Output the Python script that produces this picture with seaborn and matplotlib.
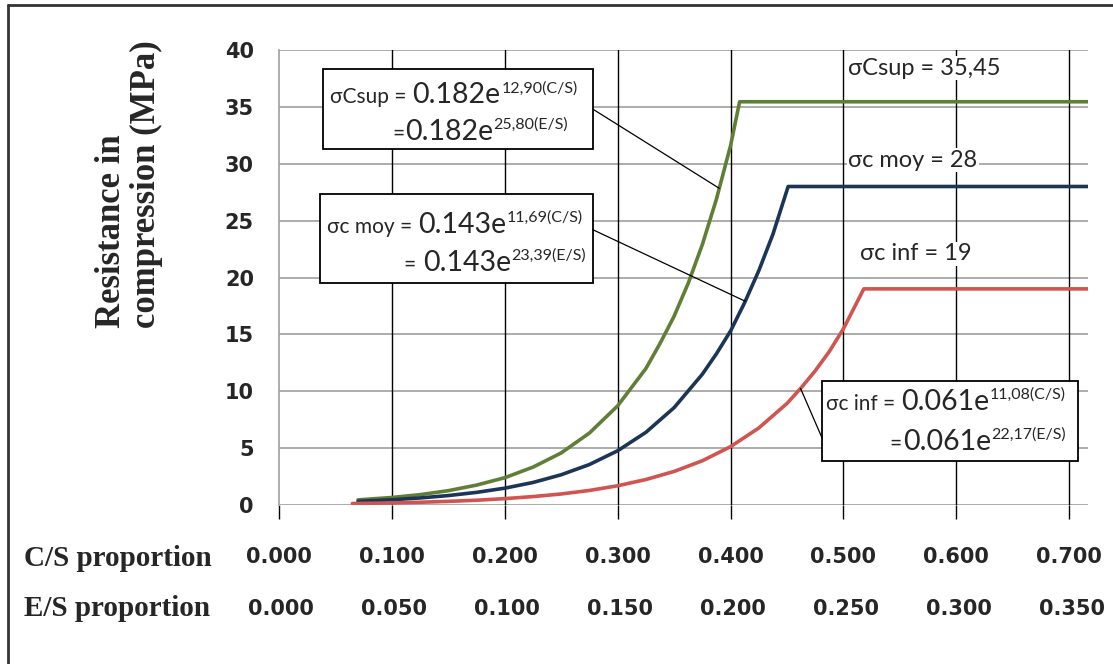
import numpy as np
import pandas as pd
import matplotlib
matplotlib.use("Agg")
import matplotlib.pyplot as plt
from matplotlib.patches import Rectangle
from matplotlib.lines import Line2D
import seaborn as sns


# ==========================================================
# Data (C/S proportion vs resistance, MPa)
# ==========================================================

cs_sup = [0.07, 0.10, 0.125, 0.15, 0.175, 0.20, 0.225, 0.25, 0.275, 0.30,
          0.325, 0.3375, 0.35, 0.3625, 0.375, 0.3875, 0.40, 0.408, 0.72]
rc_sup = [0.45, 0.66, 0.91, 1.26, 1.75, 2.40, 3.33, 4.58, 6.33, 8.72,
          12.0, 14.2, 16.6, 19.5, 22.9, 26.9, 31.6, 35.45, 35.45]

cs_moy = [0.07, 0.10, 0.125, 0.15, 0.175, 0.20, 0.225, 0.25, 0.275, 0.30,
          0.325, 0.35, 0.375, 0.3875, 0.40, 0.4125, 0.425, 0.4375, 0.451, 0.72]
rc_moy = [0.32, 0.46, 0.62, 0.83, 1.11, 1.48, 1.98, 2.66, 3.56, 4.77,
          6.39, 8.56, 11.5, 13.3, 15.3, 17.8, 20.6, 23.8, 28.0, 28.0]

cs_inf = [0.065, 0.10, 0.125, 0.15, 0.175, 0.20, 0.225, 0.25, 0.275, 0.30,
          0.325, 0.35, 0.375, 0.40, 0.425, 0.45, 0.4625, 0.475, 0.4875,
          0.50, 0.518, 0.72]
rc_inf = [0.13, 0.18, 0.24, 0.32, 0.42, 0.56, 0.74, 0.97, 1.28, 1.69,
          2.24, 2.95, 3.89, 5.13, 6.77, 8.93, 10.3, 11.8, 13.5,
          15.5, 19.0, 19.0]

series_names = ["sup", "moy", "inf"]
series_colors = {"sup": "#5F7F36", "moy": "#1C3557", "inf": "#D0544F"}

cs_ticks = ["0.000", "0.100", "0.200", "0.300", "0.400", "0.500", "0.600", "0.700"]
es_ticks = ["0.000", "0.050", "0.100", "0.150", "0.200", "0.250", "0.300", "0.350"]
y_ticks = [0, 5, 10, 15, 20, 25, 30, 35, 40]

plateau_labels = {"sup": "σCsup = 35,45", "moy": "σc moy = 28", "inf": "σc inf = 19"}

# equation pieces: (prefix, main, exponent) for each line of each box
eq_parts = {
    "sup": [("σCsup = ", "0.182e", "12,90(C/S)"), ("=", "0.182e", "25,80(E/S)")],
    "moy": [("σc moy = ", "0.143e", "11,69(C/S)"), ("= ", "0.143e", "23,39(E/S)")],
    "inf": [("σc inf = ", "0.061e", "11,08(C/S)"), ("=", "0.061e", "22,17(E/S)")],
}


# ==========================================================
# Long table for seaborn
# ==========================================================

df = pd.concat([
    pd.DataFrame({"cs": cs_sup, "rc": rc_sup, "serie": "sup"}),
    pd.DataFrame({"cs": cs_moy, "rc": rc_moy, "serie": "moy"}),
    pd.DataFrame({"cs": cs_inf, "rc": rc_inf, "serie": "inf"}),
], ignore_index=True)


sns.set_style("white")
plt.rcParams["font.family"] = ["Lato", "DejaVu Sans"]

fig = plt.figure(figsize=(11.13, 6.64), dpi=100)
ax = fig.add_axes([279 / 1113, 1 - 505 / 664, (1088 - 279) / 1113, 455 / 664])

# grid
for v in y_ticks:
    ax.axhline(v, color="#A6A6A6", lw=1.3, zorder=1)
for i in range(1, len(cs_ticks)):
    ax.axvline(i * 0.1, color="black", lw=1.0, zorder=1)

sns.lineplot(
    data=df, x="cs", y="rc", hue="serie",
    palette=series_colors, hue_order=series_names,
    estimator=None, sort=False, lw=2.6, legend=False,
    ax=ax, zorder=3
)

ax.set_xlim(0, 0.7166)
ax.set_ylim(0, 40)
ax.set_xlabel("")
ax.set_ylabel("")

for s in ["top", "right", "bottom"]:
    ax.spines[s].set_visible(False)
ax.spines["left"].set_color("#A6A6A6")
ax.spines["left"].set_linewidth(1.3)

ax.set_yticks(y_ticks)
ax.set_yticklabels([str(v) for v in y_ticks], fontfamily="DejaVu Sans",
                   fontweight="bold", fontsize=15)
ax.tick_params(axis="y", direction="out", length=9, width=1.3,
               color="#A6A6A6", pad=9)
ax.set_xticks([i * 0.1 for i in range(len(cs_ticks))])
ax.set_xticklabels([])
ax.tick_params(axis="x", direction="out", length=10, width=1.0,
               color="black", bottom=True)

# two rows of proportion labels
tr = ax.get_xaxis_transform()
for i, (a, b) in enumerate(zip(cs_ticks, es_ticks)):
    ax.text(i * 0.1, -52 / 455, a, transform=tr, ha="center", va="center",
            fontfamily="DejaVu Sans", fontweight="bold", fontsize=15,
            clip_on=False)
    ax.text(i * 0.1 + 0.002, -104 / 455, b, transform=tr, ha="center", va="center",
            fontfamily="DejaVu Sans", fontweight="bold", fontsize=15,
            clip_on=False)

fig.text(24 / 1113, 1 - 558 / 664, "C/S proportion", ha="left", va="center",
         fontfamily="Liberation Serif", fontweight="bold", fontsize=21)
fig.text(24 / 1113, 1 - 609 / 664, "E/S proportion", ha="left", va="center",
         fontfamily="Liberation Serif", fontweight="bold", fontsize=21)

fig.text(129 / 1113, 1 - 184 / 664, "Resistance in\ncompression (MPa)",
         rotation=90, ha="center", va="center", multialignment="left",
         fontfamily="Liberation Serif", fontweight="bold", fontsize=25,
         linespacing=1.05)

# plateau labels
bg = dict(facecolor="white", edgecolor="none", pad=1)
ax.text(0.504, 38.4, plateau_labels["sup"], fontsize=17, ha="left", va="center",
        bbox=bg, zorder=4)
ax.text(0.504, 30.3, plateau_labels["moy"], fontsize=17, ha="left", va="center",
        bbox=bg, zorder=4)
ax.text(0.515, 22.1, plateau_labels["inf"], fontsize=17, ha="left", va="center",
        bbox=bg, zorder=4)

# equation boxes: rectangle, then start x / baseline y of both lines
boxes = {
    "sup": ((0.039, 31.3, 0.239, 7.0), [(0.045, 35.3), (0.100, 32.1)]),
    "moy": ((0.036, 19.5, 0.242, 7.8), [(0.0425, 23.9), (0.111, 20.6)]),
    "inf": ((0.481, 3.9, 0.227, 7.0), [(0.4845, 8.35), (0.541, 4.83)]),
}
for key, ((bx, by, bw, bh), starts) in boxes.items():
    ax.add_patch(Rectangle((bx, by), bw, bh, facecolor="white",
                           edgecolor="black", lw=1.3, zorder=4))
    for (x0, yb), (pre, main, expo) in zip(starts, eq_parts[key]):
        t1 = ax.text(x0, yb, pre, fontsize=15, ha="left", va="baseline", zorder=5)
        t2 = ax.annotate(main, xy=(1, yb), xycoords=(t1, "data"),
                         xytext=(0.5, 0), textcoords="offset points",
                         fontsize=20.5, ha="left", va="baseline", zorder=5)
        ax.annotate(expo, xy=(1, yb), xycoords=(t2, "data"),
                    xytext=(0.5, 8), textcoords="offset points",
                    fontsize=11.5, ha="left", va="baseline", zorder=5)

# leader lines from the boxes to the curves
lead = dict(arrowstyle="-", color="black", lw=0.9, shrinkA=0, shrinkB=0)
ax.annotate("", xy=(0.39, np.interp(0.39, cs_sup, rc_sup)), xytext=(0.278, 34.8),
            arrowprops=lead, zorder=5)
ax.annotate("", xy=(0.413, np.interp(0.413, cs_moy, rc_moy)), xytext=(0.278, 24.2),
            arrowprops=lead, zorder=5)
ax.annotate("", xy=(0.462, np.interp(0.462, cs_inf, rc_inf)), xytext=(0.481, 5.9),
            arrowprops=lead, zorder=5)

# outer frame (top and left edges only, as in the scan)
fig.add_artist(Line2D([8 / 1113, 1.0], [1 - 5 / 664, 1 - 5 / 664],
                      color="#333333", lw=2))
fig.add_artist(Line2D([8 / 1113, 8 / 1113], [0.0, 1 - 5 / 664],
                      color="#333333", lw=2))

fig.savefig("out.png", dpi=100)
